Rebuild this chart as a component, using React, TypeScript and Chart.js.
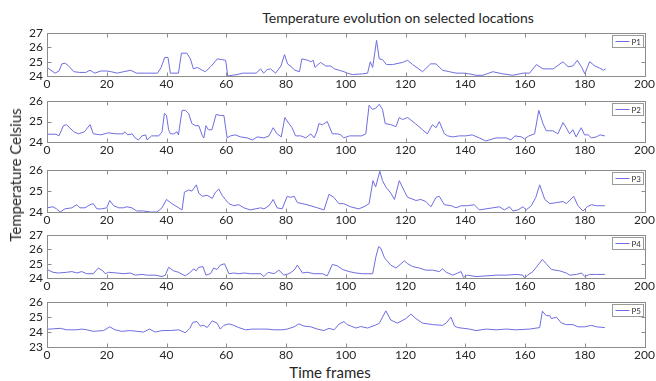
import React, { useEffect, useRef } from "react";
import { Chart, registerables } from "chart.js";

Chart.register(...registerables);

// ---- data (x = time frame, y = temperature) ----
const xTickLabels = [0, 20, 40, 60, 80, 100, 120, 140, 160, 180, 200];
const seriesNames = ["P1", "P2", "P3", "P4", "P5"];
const yMins = [24, 24, 24, 24, 23];
const yMaxs = [27, 26, 26, 27, 26];

const p1: [number, number][] = [
  [0, 24.6], [1, 24.45], [2.7, 24.2], [4, 24.35], [5, 24.85], [6, 24.9], [7, 24.75], [9, 24.3], [11, 24.25], [13, 24.25],
  [14.4, 24.4], [16, 24.2], [18, 24.35], [20, 24.35], [21.5, 24.3], [23.5, 24.2], [25.6, 24.3], [28, 24.4], [30, 24.2], [33, 24.2],
  [37, 24.2], [38.2, 24.6], [39.4, 25.3], [40.5, 25.3], [41.3, 24.2], [44, 24.2], [45, 25.6], [46.8, 25.6], [48, 25.2], [49, 24.5],
  [50.3, 24.6], [52, 24.4], [53, 24.3], [55, 24.7], [57, 25.2], [58.5, 25.15], [59.8, 25.1], [60.5, 24.0], [62, 24.05], [63.6, 24.1],
  [65.5, 24.2], [68, 24.2], [70, 24.2], [71.5, 24.5], [72.5, 24.2], [73.7, 24.45], [74.8, 24.5], [76.5, 24.2], [78.3, 24.7], [79.5, 25.5],
  [80.5, 24.85], [82, 24.6], [83, 24.4], [84.5, 24.3], [85.3, 25.2], [87.3, 25.1], [88.3, 25.0], [89.1, 25.1], [89.7, 24.6], [90.7, 24.8],
  [91.6, 24.95], [93.3, 24.7], [95, 24.7], [96.2, 24.5], [97.8, 24.4], [99.4, 24.3], [100.5, 24.2], [102.2, 24.1], [105.6, 24.15], [107.3, 24.2],
  [108.2, 25.0], [109, 24.6], [110.3, 26.5], [111.2, 25.2], [112.3, 25.15], [113.6, 24.8], [115.6, 24.8], [119, 24.95], [120.7, 25.1], [122.4, 24.8],
  [125.7, 24.3], [128.4, 24.85], [130.2, 24.85], [132.4, 24.4], [134.7, 24.3], [136.9, 24.2], [139.1, 24.2], [141.4, 24.15], [143.6, 24.05], [145.9, 24.05],
  [149.2, 24.3], [152.6, 24.15], [155.9, 24.05], [159.3, 24.2], [161.5, 24.2], [163.8, 24.8], [166, 24.5], [169.4, 24.5], [172.7, 25.0], [174.4, 24.65],
  [176, 24.7], [177.5, 25.1], [179, 24.6], [180, 24.15], [181.6, 25.0], [183.4, 24.7], [185, 24.55], [186.2, 24.4], [187, 24.5],
];

const p2: [number, number][] = [
  [0, 24.38], [3, 24.38], [4, 24.3], [5.5, 24.8], [6.5, 24.85], [9, 24.5], [10.5, 24.4], [12.5, 24.5], [14.4, 24.85], [15.5, 24.4],
  [18, 24.35], [20.5, 24.45], [23, 24.4], [25.5, 24.4], [26, 24.5], [27, 24.35], [28.5, 24.4], [29.5, 24.2], [30.6, 24.1], [31.8, 24.3],
  [33, 24.35], [33.5, 24.1], [35, 24.3], [37.4, 24.3], [38.5, 24.5], [39.3, 25.4], [40, 25.3], [40.7, 24.6], [41.3, 24.4], [42.4, 24.4],
  [43.5, 24.5], [44, 24.35], [45.2, 25.55], [46.3, 25.55], [47.4, 25.4], [48.5, 24.9], [49.7, 24.8], [50.8, 24.8], [52, 24.3], [52.5, 24.2],
  [53.2, 24.8], [54, 24.6], [55.2, 24.6], [56.6, 25.35], [58, 25.3], [59.2, 25.3], [60.3, 24.2], [61.4, 24.3], [63, 24.35], [64.8, 24.25],
  [67, 24.2], [68.7, 24.1], [70.4, 24.25], [72.6, 24.2], [74.3, 24.3], [75.7, 24.7], [77, 24.4], [78.4, 24.25], [79.6, 25.2], [81, 24.9],
  [82, 24.7], [83.2, 24.3], [85, 24.3], [86.6, 24.2], [88.3, 24.4], [89.4, 24.2], [90.3, 24.5], [91, 24.9], [92.2, 24.85], [93.8, 25.0],
  [95.5, 24.4], [97.2, 24.4], [98.3, 24.35], [99.3, 24.2], [101.3, 24.3], [103.3, 24.3], [105.3, 24.3], [106.7, 24.4], [107.8, 25.8], [108.9, 25.6],
  [110, 25.65], [111.2, 25.85], [112.3, 25.6], [113.2, 24.9], [115.1, 24.85], [116.8, 24.75], [117.9, 25.2], [119, 25.1], [120.7, 25.2], [123.3, 24.9],
  [125.7, 24.6], [127.3, 24.4], [129, 24.85], [130.2, 24.7], [131.3, 25.0], [133, 24.4], [134.1, 24.3], [135.8, 24.25], [138, 24.3], [140.2, 24.3],
  [142.3, 24.35], [144.7, 24.2], [146.9, 24.05], [150.3, 24.2], [153.7, 24.2], [155.3, 24.1], [156.6, 24.3], [158.8, 24.25], [159.8, 24.15], [161.3, 24.3],
  [163.2, 24.4], [164.6, 25.55], [166, 24.9], [167.1, 24.55], [169.3, 24.55], [171, 24.4], [172.7, 24.95], [173.8, 24.7], [174.9, 24.4], [176, 24.6],
  [177.1, 24.25], [178.8, 24.7], [179.9, 24.35], [181.1, 24.35], [182.2, 24.2], [183.9, 24.25], [185.1, 24.35], [186.7, 24.3],
];

const p3: [number, number][] = [
  [0, 24.2], [2, 24.25], [3.2, 24.15], [4.4, 24.0], [6, 24.15], [8.3, 24.2], [10, 24.35], [11, 24.2], [12.7, 24.2], [14.4, 24.35],
  [15.5, 24.4], [16.7, 24.15], [18.3, 24.15], [20, 24.2], [21, 24.55], [22.3, 24.3], [24, 24.2], [25.6, 24.2], [26.7, 24.25], [28.4, 24.2],
  [30, 24.05], [32.3, 24.05], [34.6, 24.0], [36.8, 24.0], [38.5, 24.2], [40, 24.6], [41.8, 24.4], [43.5, 24.25], [45.2, 24.1], [46, 24.95],
  [47.4, 25.05], [48.5, 25.0], [50, 25.3], [50.8, 24.9], [52, 24.75], [53.6, 24.8], [55.3, 24.65], [56.4, 24.95], [57.5, 25.1], [58.6, 24.8],
  [59.7, 24.6], [60.9, 24.4], [62.5, 24.3], [64.2, 24.35], [65.9, 24.2], [68, 24.1], [71.5, 24.2], [72.6, 24.15], [74.3, 24.3], [75.7, 24.6],
  [77, 24.2], [78.7, 24.15], [80.4, 24.75], [81.5, 24.7], [82.7, 24.75], [83.8, 24.45], [87, 24.35], [90.5, 24.2], [92.7, 24.1], [94.4, 24.85],
  [96, 24.7], [97.7, 24.4], [99.3, 24.4], [101.6, 24.25], [104.3, 24.15], [106.1, 24.25], [107.8, 24.4], [109.1, 25.5], [110, 25.2], [111.4, 25.95],
  [112.3, 25.5], [113.4, 25.2], [115.1, 24.9], [116.3, 24.6], [117.9, 25.5], [119.6, 25.0], [120.7, 24.7], [121.8, 24.65], [123.5, 24.55], [125.1, 24.6],
  [126.8, 24.5], [128.5, 24.25], [130.2, 24.7], [131.3, 24.75], [133, 24.35], [135.3, 24.3], [136.9, 24.2], [138.6, 24.3], [140.8, 24.3], [143, 24.35],
  [144.7, 24.1], [146.9, 24.15], [149.2, 24.2], [151.4, 24.25], [153.1, 24.1], [154.8, 24.25], [155.9, 24.05], [157.6, 24.1], [159.3, 24.25], [160.4, 24.1],
  [162.1, 24.3], [163.6, 24.7], [164.9, 25.3], [166.6, 24.6], [168.3, 24.4], [170.6, 24.45], [172.7, 24.5], [173.8, 24.4], [176.3, 24.75], [177.7, 24.3],
  [179.4, 24.05], [180.8, 24.25], [182.2, 24.35], [183.9, 24.3], [186.7, 24.3],
];

const p4: [number, number][] = [
  [0, 24.6], [2, 24.4], [3.8, 24.35], [6.6, 24.4], [8.3, 24.45], [10, 24.35], [11.6, 24.45], [13.3, 24.3], [15.5, 24.3], [17.2, 24.7],
  [18.7, 24.5], [19.5, 24.3], [20.6, 24.4], [23.4, 24.35], [25.6, 24.3], [27.9, 24.35], [29.5, 24.2], [31.8, 24.25], [33.4, 24.2], [36.2, 24.2],
  [38.5, 24.1], [39.6, 24.2], [40.7, 24.75], [42.4, 24.5], [44, 24.4], [46.3, 24.15], [48, 24.4], [49.1, 24.65], [49.9, 24.5], [50.8, 24.75],
  [52.2, 24.8], [53.2, 24.2], [54.7, 24.3], [55.8, 24.7], [56.9, 24.6], [58, 24.9], [59.4, 25.0], [60.9, 24.3], [62.5, 24.35], [64.2, 24.3],
  [65.9, 24.35], [68.1, 24.3], [71.5, 24.3], [72.6, 24.1], [74, 24.4], [76, 24.3], [77.6, 24.55], [79.3, 24.2], [81, 24.3], [82.7, 24.55],
  [83.8, 24.9], [85.5, 24.35], [87.1, 24.4], [89.4, 24.3], [92.2, 24.3], [93.8, 24.15], [95.5, 24.95], [97.2, 24.85], [98.9, 24.6], [101.1, 24.45],
  [103.4, 24.35], [105.6, 24.3], [109, 24.3], [110.1, 25.5], [111, 26.2], [111.7, 26.1], [112.9, 25.45], [113.4, 25.3], [115.1, 24.9], [116.8, 24.7],
  [118.5, 25.0], [119.6, 25.2], [120.7, 25.0], [122.4, 24.8], [124.6, 24.7], [126.8, 24.55], [129.1, 24.55], [131.3, 24.45], [132.4, 24.65], [133.6, 24.4],
  [135.8, 24.2], [137.5, 24.35], [138.6, 24.45], [139.4, 24.05], [140.8, 24.2], [143.6, 24.1], [147, 24.15], [150.3, 24.2], [153.7, 24.2], [157, 24.25],
  [159.3, 24.2], [159.8, 24.0], [160.9, 24.2], [162.6, 24.45], [164.3, 24.9], [165.8, 25.3], [167.1, 25.0], [168.8, 24.6], [171.6, 24.5], [173.8, 24.35],
  [174.9, 24.2], [177.2, 24.25], [178.9, 24.35], [180, 24.1], [181.6, 24.25], [183.9, 24.25], [186.7, 24.25],
];

const p5: [number, number][] = [
  [0, 24.2], [1, 24.2], [4.4, 24.25], [6.6, 24.15], [10, 24.15], [11.6, 24.2], [13.3, 24.15], [15.5, 24.05], [18.9, 24.1], [21, 24.35],
  [22.8, 24.15], [25, 24.05], [27.9, 24.1], [30.1, 24.05], [32.3, 24.0], [34.3, 24.2], [36.2, 24.0], [38.5, 24.1], [41.3, 24.1], [44.1, 24.15],
  [46.3, 23.95], [47.8, 24.25], [48.8, 24.65], [50.2, 24.7], [51.3, 24.4], [52.5, 24.45], [53.6, 24.3], [55.3, 24.75], [56.9, 24.6], [58, 24.2],
  [59.2, 24.45], [60.9, 24.55], [62.5, 24.45], [64.2, 24.3], [66.4, 24.15], [68.7, 24.2], [71.5, 24.2], [73.7, 24.2], [76, 24.15], [78.7, 24.15],
  [80.4, 24.2], [82.7, 24.35], [84.3, 24.55], [86, 24.4], [88.3, 24.35], [90.5, 24.2], [92.7, 24.1], [94.4, 24.25], [96.1, 24.15], [97.8, 24.55],
  [99.4, 24.7], [100.5, 24.5], [102, 24.38], [103.4, 24.27], [105, 24.37], [107.3, 24.27], [110.1, 24.48], [111.2, 24.58], [113.4, 25.42], [115.1, 24.8],
  [117.3, 24.6], [120.1, 24.9], [121.8, 25.2], [123.5, 24.9], [125.7, 24.6], [129.1, 24.5], [132.4, 24.45], [133.6, 24.6], [135.2, 25.0], [136.4, 24.4],
  [137.5, 24.3], [141.4, 24.2], [143.6, 24.1], [147, 24.2], [150.3, 24.15], [153.7, 24.2], [157, 24.15], [161.5, 24.2], [164.9, 24.3], [165.8, 25.4],
  [167.1, 25.1], [168.3, 25.1], [168.8, 24.9], [170.5, 25.0], [172.2, 24.6], [173.8, 24.5], [176, 24.5], [177.7, 24.35], [180, 24.35], [182.2, 24.45],
  [183.9, 24.35], [186.7, 24.3],
];

const seriesData = [p1, p2, p3, p4, p5];

// ---- layout ----
const FONT = "Lato, 'DejaVu Sans', sans-serif";
const LINE_COLOR = "#6e6ee0";
const FRAME_COLOR = "#8c8c8c";
const TEXT_COLOR = "#262626";
const plotTops = [30, 98, 167, 232, 299];
const plotBottoms = [76, 142, 212, 278, 347];
const PAD_TOP = 8;
const X_AXIS_H = 16;
const Y_AXIS_W = 47;
const PAD_RIGHT = 10;

const framePlugin = {
  id: "matlabFrame",
  afterDraw(chart: any) {
    const { ctx, chartArea: a, scales } = chart;
    const xs = scales.x;
    const ys = scales.y;
    const L = Math.round(a.left) + 0.5;
    const R = Math.round(a.right) + 0.5;
    const T = Math.round(a.top) + 0.5;
    const B = Math.round(a.bottom) + 0.5;
    ctx.save();
    ctx.strokeStyle = FRAME_COLOR;
    ctx.lineWidth = 1;
    ctx.strokeRect(L, T, R - L, B - T);
    const tl = 4;
    ctx.beginPath();
    xs.ticks.forEach((t: any) => {
      const x = Math.round(xs.getPixelForValue(t.value)) + 0.5;
      ctx.moveTo(x, T);
      ctx.lineTo(x, T + tl);
      ctx.moveTo(x, B);
      ctx.lineTo(x, B - tl);
    });
    ys.ticks.forEach((t: any) => {
      const y = Math.round(ys.getPixelForValue(t.value)) + 0.5;
      ctx.moveTo(L, y);
      ctx.lineTo(L + tl, y);
      ctx.moveTo(R, y);
      ctx.lineTo(R - tl, y);
    });
    ctx.stroke();

    // legend box
    const ds = chart.data.datasets[0];
    const bw = 31;
    const bh = 12;
    const bx = Math.round(a.right) - bw - 2 + 0.5;
    const by = Math.round(a.top) + 2 + 0.5;
    ctx.fillStyle = "#ffffff";
    ctx.fillRect(bx, by, bw, bh);
    ctx.strokeStyle = "#9a9a9a";
    ctx.strokeRect(bx, by, bw, bh);
    ctx.strokeStyle = ds.borderColor;
    ctx.beginPath();
    ctx.moveTo(bx + 3, by + bh / 2);
    ctx.lineTo(bx + 17, by + bh / 2);
    ctx.stroke();
    ctx.fillStyle = "#333";
    ctx.font = "8px " + FONT;
    ctx.textBaseline = "middle";
    ctx.textAlign = "left";
    ctx.fillText(ds.label, bx + 19, by + bh / 2 + 0.5);
    ctx.restore();
  },
};

function Panel({ idx }: { idx: number }) {
  const ref = useRef<HTMLCanvasElement | null>(null);
  const top = plotTops[idx] - PAD_TOP;
  const height = plotBottoms[idx] - plotTops[idx] + PAD_TOP + X_AXIS_H;

  useEffect(() => {
    if (!ref.current) return;
    const chart = new Chart(ref.current, {
      type: "line",
      data: {
        datasets: [
          {
            label: seriesNames[idx],
            data: seriesData[idx].map(([x, y]) => ({ x, y })),
            borderColor: LINE_COLOR,
            borderWidth: 1,
            pointRadius: 0,
            tension: 0,
            fill: false,
          },
        ],
      },
      options: {
        responsive: false,
        animation: false,
        devicePixelRatio: 1,
        layout: { padding: { top: PAD_TOP, right: PAD_RIGHT, left: 0, bottom: 0 } },
        plugins: {
          legend: { display: false },
          tooltip: { enabled: false },
          title: { display: false },
        },
        scales: {
          x: {
            type: "linear",
            min: xTickLabels[0],
            max: xTickLabels[xTickLabels.length - 1],
            afterBuildTicks: (s: any) => {
              s.ticks = xTickLabels.map((v) => ({ value: v }));
            },
            ticks: {
              color: TEXT_COLOR,
              font: { family: FONT, size: 12 },
              padding: 1,
              maxRotation: 0,
              autoSkip: false,
            },
            grid: { display: false, drawTicks: false },
            border: { display: false },
            afterFit: (s: any) => {
              s.height = X_AXIS_H;
            },
          },
          y: {
            type: "linear",
            min: yMins[idx],
            max: yMaxs[idx],
            ticks: {
              stepSize: 1,
              color: TEXT_COLOR,
              font: { family: FONT, size: 12 },
              padding: 4,
              autoSkip: false,
            },
            grid: { display: false, drawTicks: false },
            border: { display: false },
            afterFit: (s: any) => {
              s.width = Y_AXIS_W;
            },
          },
        },
      } as any,
      plugins: [framePlugin],
    });
    return () => chart.destroy();
  }, [idx]);

  return (
    <canvas
      ref={ref}
      width={656}
      height={height}
      style={{ position: "absolute", left: 0, top, width: 656, height }}
    />
  );
}

export default function App() {
  return (
    <div
      style={{
        position: "absolute",
        left: 0,
        top: 0,
        width: 656,
        height: 381,
        background: "#ffffff",
        overflow: "hidden",
        fontFamily: FONT,
        color: TEXT_COLOR,
      }}
    >
      <div
        style={{
          position: "absolute",
          left: 398,
          top: 17,
          transform: "translate(-50%, -50%)",
          whiteSpace: "nowrap",
          fontSize: 14,
        }}
      >
        Temperature evolution on selected locations
      </div>
      {seriesNames.map((_, i) => (
        <Panel key={i} idx={i} />
      ))}
      <div
        style={{
          position: "absolute",
          left: 330,
          top: 372,
          transform: "translate(-50%, -50%)",
          whiteSpace: "nowrap",
          fontSize: 15,
        }}
      >
        Time frames
      </div>
      <div
        style={{
          position: "absolute",
          left: 15,
          top: 175,
          transform: "translate(-50%, -50%) rotate(-90deg)",
          whiteSpace: "nowrap",
          fontSize: 15,
        }}
      >
        Temperature Celsius
      </div>
    </div>
  );
}
